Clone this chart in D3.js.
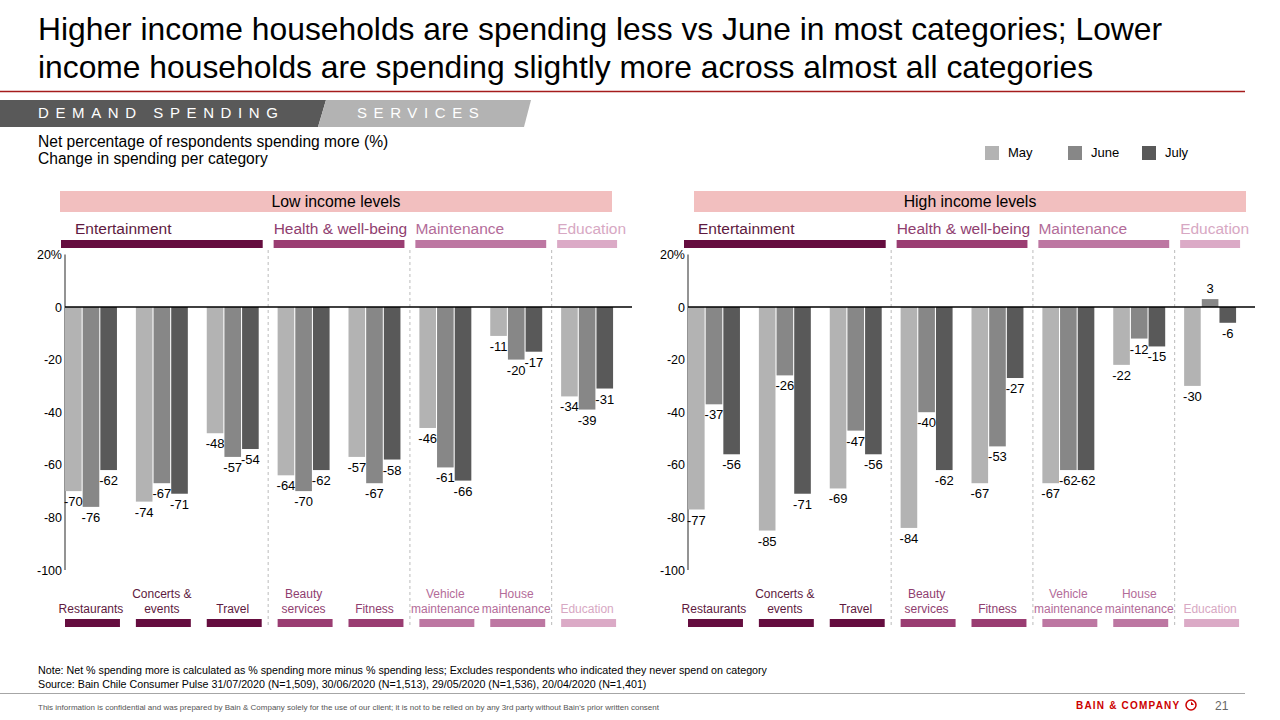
<!DOCTYPE html>
<html>
<head>
<meta charset="utf-8">
<script src="https://cdn.jsdelivr.net/npm/d3@7"></script>
<style>
  body { margin: 0; background: #fff; }
  svg { font-family: "Liberation Sans", Arial, Helvetica, sans-serif; display: block; }
</style>
</head>
<body>
<svg id="chart" width="1280" height="720"></svg>
<script>
// ---- data ----
var categories = ["Restaurants", "Concerts & events", "Travel", "Beauty services", "Fitness",
    "Vehicle maintenance", "House maintenance", "Education"];
var categoryLines = [["Restaurants"], ["Concerts &", "events"], ["Travel"], ["Beauty", "services"],
    ["Fitness"], ["Vehicle", "maintenance"], ["House", "maintenance"], ["Education"]];
var groups = ["Entertainment", "Health & well-being", "Maintenance", "Education"];
var categoryGroup = [0, 0, 0, 1, 1, 2, 2, 3];
var months = ["May", "June", "July"];

var lowMay  = [-70, -74, -48, -64, -57, -46, -11, -34];
var lowJune = [-76, -67, -57, -70, -67, -61, -20, -39];
var lowJuly = [-62, -71, -54, -62, -58, -66, -17, -31];

var highMay  = [-77, -85, -69, -84, -67, -67, -22, -30];
var highJune = [-37, -26, -47, -40, -53, -62, -12, 3];
var highJuly = [-56, -71, -56, -62, -27, -62, -15, -6];

var yTicks = [20, 0, -20, -40, -60, -80, -100];

// ---- styles ----
var monthColor = d3.scaleOrdinal().domain(months).range(["#b3b3b3", "#878787", "#595959"]);
var groupColor = ["#650d3f", "#9a3d72", "#bd77a2", "#dbaac6"];
var groupText = ["#5e1a40", "#8f3e6f", "#b36c99", "#d7a8c3"];

var svg = d3.select("#chart");

// title
svg.append("text").attr("x", 38).attr("y", 40).attr("font-size", 31.8).attr("fill", "#000")
    .text("Higher income households are spending less vs June in most categories; Lower");
svg.append("text").attr("x", 38).attr("y", 78).attr("font-size", 31.8).attr("fill", "#000")
    .text("income households are spending slightly more across almost all categories");
svg.append("line").attr("x1", 0).attr("x2", 1245).attr("y1", 91.5).attr("y2", 91.5)
    .attr("stroke", "#a51c1c").attr("stroke-width", 1.5);

// banner
svg.append("path").attr("d", "M0,100 L326,100 L318,127 L0,127 Z").attr("fill", "#595959");
svg.append("path").attr("d", "M326,100 L531,100 L524,127 L318,127 Z").attr("fill", "#b3b3b3");
svg.append("text").attr("x", 38).attr("y", 118).attr("font-size", 15).attr("fill", "#fff")
    .attr("letter-spacing", 6.6).text("DEMAND SPENDING");
svg.append("text").attr("x", 357).attr("y", 118).attr("font-size", 15).attr("fill", "#fff")
    .attr("letter-spacing", 6.6).text("SERVICES");

// subtitle
svg.append("text").attr("x", 38).attr("y", 147).attr("font-size", 15.6).text("Net percentage of respondents spending more (%)");
svg.append("text").attr("x", 38).attr("y", 164).attr("font-size", 15.6).text("Change in spending per category");

// legend
var legX = d3.scaleOrdinal().domain(months).range([985, 1068, 1142]);
var leg = svg.append("g").selectAll("g").data(months).enter().append("g");
leg.append("rect").attr("x", function (d) { return legX(d); }).attr("y", 146)
    .attr("width", 14).attr("height", 14).attr("fill", function (d) { return monthColor(d); });
leg.append("text").attr("x", function (d) { return legX(d) + 23; }).attr("y", 157)
    .attr("font-size", 13).text(function (d) { return d; });

var y = d3.scaleLinear().domain([-100, 20]).range([570, 254.4]);

function drawPanel(axisX, headX, title, may, june, july) {
    var g = svg.append("g");
    var x = d3.scaleBand().domain(categories).range([axisX, axisX + 567])
        .paddingInner(0.267).paddingOuter(0.1335).align(0);
    var xm = d3.scaleBand().domain(months).range([0, x.bandwidth()]).paddingInner(0.06);
    var rows = categories.map(function (c, i) {
        return { cat: c, vals: [may[i], june[i], july[i]] };
    });

    // header strip
    g.append("rect").attr("x", headX).attr("y", 191).attr("width", 552).attr("height", 21).attr("fill", "#f2bfbf");
    g.append("text").attr("x", headX + 276).attr("y", 207).attr("text-anchor", "middle")
        .attr("font-size", 15.8).text(title);

    // group labels + bars
    groups.forEach(function (name, gi) {
        var idx = categories.filter(function (c, i) { return categoryGroup[i] === gi; });
        var x0 = x(idx[0]) - 4, x1 = x(idx[idx.length - 1]) + x.bandwidth() + 4;
        g.append("rect").attr("x", x0).attr("y", 240).attr("width", x1 - x0).attr("height", 8)
            .attr("fill", groupColor[gi]);
        g.append("text").attr("x", x0 + (gi === 0 ? 14 : 0)).attr("y", 234).attr("font-size", 15.5)
            .attr("fill", groupText[gi]).text(name);
    });

    // dashed separators between groups
    [3, 5, 7].forEach(function (i) {
        var sx = x(categories[i]) - x.step() * x.paddingInner() / 2;
        g.append("line").attr("x1", sx).attr("x2", sx).attr("y1", 250).attr("y2", 628)
            .attr("stroke", "#aaa").attr("stroke-dasharray", "3,3").attr("stroke-width", 0.8);
    });

    // y axis
    g.append("line").attr("x1", axisX).attr("x2", axisX).attr("y1", y(20)).attr("y2", y(-100))
        .attr("stroke", "#6f6f6f").attr("stroke-width", 1.5);
    g.selectAll(".ytick").data(yTicks).enter().append("text")
        .attr("x", axisX - 3).attr("y", function (d) { return y(d) + 4.5; })
        .attr("text-anchor", "end").attr("font-size", 12.5)
        .text(function (d) { return d === 20 ? "20%" : d; });

    // bars
    var cg = g.selectAll(".cat").data(rows).enter().append("g")
        .attr("transform", function (d) { return "translate(" + x(d.cat) + ",0)"; });
    cg.selectAll("rect").data(function (d) { return d.vals; }).enter().append("rect")
        .attr("x", function (d, i) { return xm(months[i]); })
        .attr("width", xm.bandwidth())
        .attr("y", function (d) { return y(Math.max(0, d)); })
        .attr("height", function (d) { return Math.abs(y(d) - y(0)); })
        .attr("fill", function (d, i) { return monthColor(months[i]); });
    cg.selectAll("text").data(function (d) { return d.vals; }).enter().append("text")
        .attr("x", function (d, i) { return xm(months[i]) + xm.bandwidth() / 2; })
        .attr("y", function (d) { return d < 0 ? y(d) + 15 : y(d) - 6; })
        .attr("text-anchor", "middle").attr("font-size", 13)
        .text(function (d) { return d; });

    // zero line
    g.append("line").attr("x1", axisX).attr("x2", axisX + 567).attr("y1", y(0)).attr("y2", y(0))
        .attr("stroke", "#000").attr("stroke-width", 1.5);

    // category labels + small bars
    categories.forEach(function (c, i) {
        var lines = categoryLines[i];
        var cx = x(c) + x.bandwidth() / 2;
        var t = g.append("text").attr("text-anchor", "middle").attr("font-size", 12)
            .attr("fill", groupText[categoryGroup[i]]);
        lines.forEach(function (l, li) {
            t.append("tspan").attr("x", cx).attr("y", 613 - (lines.length - 1 - li) * 15).text(l);
        });
        g.append("rect").attr("x", x(c)).attr("y", 619).attr("width", x.bandwidth() + 3).attr("height", 8)
            .attr("fill", groupColor[categoryGroup[i]]);
    });
}

drawPanel(65, 60, "Low income levels", lowMay, lowJune, lowJuly);
drawPanel(688, 694, "High income levels", highMay, highJune, highJuly);

// footer
svg.append("text").attr("x", 38).attr("y", 674).attr("font-size", 10.7)
    .text("Note: Net % spending more is calculated as % spending more minus % spending less; Excludes respondents who indicated they never spend on category");
svg.append("text").attr("x", 38).attr("y", 688).attr("font-size", 10.7)
    .text("Source: Bain Chile Consumer Pulse 31/07/2020 (N=1,509), 30/06/2020 (N=1,513), 29/05/2020 (N=1,536), 20/04/2020 (N=1,401)");
svg.append("line").attr("x1", 0).attr("x2", 1245).attr("y1", 693.5).attr("y2", 693.5)
    .attr("stroke", "#a6a6a6").attr("stroke-width", 1);
svg.append("text").attr("x", 38).attr("y", 710).attr("font-size", 8).attr("fill", "#555")
    .text("This information is confidential and was prepared by Bain & Company solely for the use of our client; it is not to be relied on by any 3rd party without Bain's prior written consent");
svg.append("text").attr("x", 1076).attr("y", 709).attr("font-size", 10).attr("font-weight", "bold")
    .attr("letter-spacing", 1.2).attr("fill", "#cc0000").text("BAIN & COMPANY");
svg.append("circle").attr("cx", 1191).attr("cy", 705).attr("r", 5).attr("fill", "none")
    .attr("stroke", "#cc0000").attr("stroke-width", 1.5);
svg.append("path").attr("d", "M1191,705 L1191,701.5 L1194,705 Z").attr("fill", "#cc0000");
svg.append("text").attr("x", 1215).attr("y", 710).attr("font-size", 12).attr("fill", "#666").text("21");
</script>
</body>
</html>
